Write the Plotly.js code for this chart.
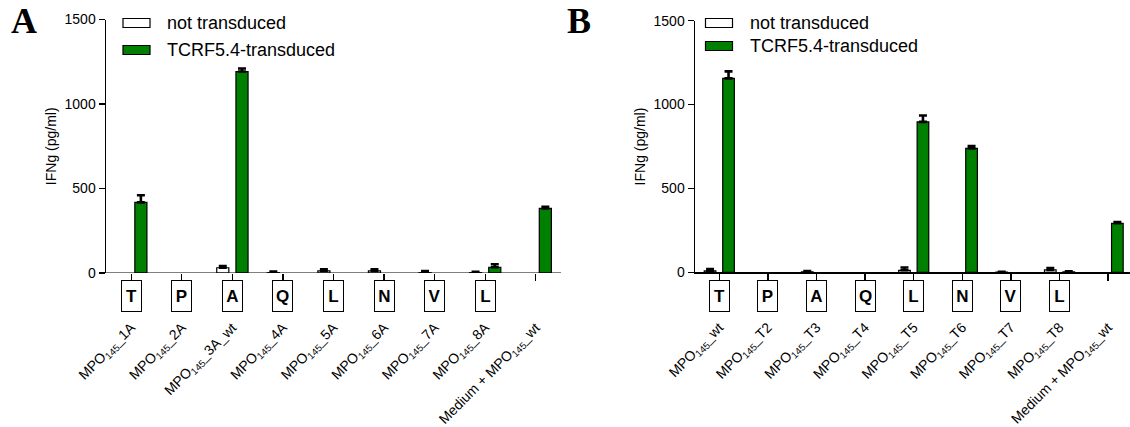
<!DOCTYPE html>
<html>
<head>
<meta charset="utf-8">
<script src="https://cdn.plot.ly/plotly-3.0.1.min.js"></script>
<style>html,body{margin:0;padding:0;background:#fff;}#chart{width:1130px;height:427px;}</style>
</head>
<body>
<div id="chart"></div>
<script>
// ---------- Data ----------
const seriesNames = ['not transduced', 'TCRF5.4-transduced'];

const categoriesA = ['MPO<sub>145</sub>_1A', 'MPO<sub>145</sub>_2A', 'MPO<sub>145</sub>_3A_wt', 'MPO<sub>145</sub>_4A',
  'MPO<sub>145</sub>_5A', 'MPO<sub>145</sub>_6A', 'MPO<sub>145</sub>_7A', 'MPO<sub>145</sub>_8A', 'Medium + MPO<sub>145</sub>_wt'];
const residuesA = ['T', 'P', 'A', 'Q', 'L', 'N', 'V', 'L'];
const notTransducedA = [null, null, 31, 2, 12, 12, 2, 2, null];
const notTransducedErrA = [0, 0, 10, 6, 10, 10, 9, 5, 0];
const transducedA = [418, null, 1192, null, null, null, null, 34, 382];
const transducedErrA = [42, 0, 18, 0, 0, 0, 0, 18, 9];

const categoriesB = ['MPO<sub>145</sub>_wt', 'MPO<sub>145</sub>_T2', 'MPO<sub>145</sub>_T3', 'MPO<sub>145</sub>_T4',
  'MPO<sub>145</sub>_T5', 'MPO<sub>145</sub>_T6', 'MPO<sub>145</sub>_T7', 'MPO<sub>145</sub>_T8', 'Medium + MPO<sub>145</sub>_wt'];
const residuesB = ['T', 'P', 'A', 'Q', 'L', 'N', 'V', 'L'];
const notTransducedB = [8, null, 2, null, 12, null, 1, 14, null];
const notTransducedErrB = [11, 0, 5, 0, 17, 0, 2, 12, 0];
const transducedB = [1156, null, null, null, 897, 739, null, 2, 292];
const transducedErrB = [42, 0, 0, 0, 38, 13, 0, 4, 8];

const yTicks = [0, 500, 1000, 1500];
const noLowerErr = [0, 0, 0, 0, 0, 0, 0, 0, 0];

// ---------- Styles ----------
const FONT = 'Arial, "Liberation Sans", sans-serif';
const SERIF = '"Times New Roman", "Liberation Serif", serif';
const GREEN = '#008000';
const W = 1130, H = 427;
const px = v => v / W;
const py = v => 1 - v / H;

function barTrace(cats, vals, errs, xa, ya, fill, name) {
  return {
    type: 'bar', x: cats, y: vals, name: name, xaxis: xa, yaxis: ya, showlegend: false,
    marker: {color: fill, line: {color: '#000', width: 1.2}},
    error_y: {type: 'data', symmetric: false, array: errs, arrayminus: noLowerErr,
      color: '#000', thickness: 2.6, width: 4},
    hoverinfo: 'x+y'
  };
}

const data = [
  barTrace(categoriesA, notTransducedA, notTransducedErrA, 'x', 'y', '#fff', seriesNames[0]),
  barTrace(categoriesA, transducedA, transducedErrA, 'x', 'y', GREEN, seriesNames[1]),
  barTrace(categoriesB, notTransducedB, notTransducedErrB, 'x2', 'y2', '#fff', seriesNames[0]),
  barTrace(categoriesB, transducedB, transducedErrB, 'x2', 'y2', GREEN, seriesNames[1])
];

function xAxis(cats, domain, range, showline) {
  return {
    domain: domain, type: 'category', categoryorder: 'array', categoryarray: cats,
    range: range, tickangle: -45, ticks: 'outside', ticklen: 7, tickwidth: 1.3, tickcolor: '#000',
    ticklabelstandoff: 33, showline: showline, linecolor: '#000', linewidth: 1.5,
    showgrid: false, zeroline: false, automargin: false, fixedrange: true,
    tickfont: {family: FONT, size: 14, color: '#000'}
  };
}
function yAxis(domain, anchor) {
  return {
    domain: domain, anchor: anchor, range: [0, 1500], tickvals: yTicks, ticktext: yTicks.map(String),
    ticks: 'outside', ticklen: 6, tickwidth: 1.3, tickcolor: '#000',
    showline: true, linecolor: '#000', linewidth: 1.5, showgrid: false, zeroline: false,
    automargin: false, fixedrange: true,
    tickfont: {family: FONT, size: 14, color: '#000'},
    title: {text: 'IFNg (pg/ml)', font: {family: FONT, size: 14, color: '#000'}, standoff: 4}
  };
}

const annotations = [];
const shapes = [];

function addResidueBoxes(letters, xref) {
  letters.forEach((l, i) => {
    annotations.push({x: i, xref: xref, y: py(296), yref: 'paper', yanchor: 'middle',
      text: '<b>' + l + '</b>', showarrow: false, font: {family: FONT, size: 17, color: '#000'},
      bordercolor: '#000', borderwidth: 1, borderpad: 0, width: 19, height: 30, bgcolor: '#fff'});
  });
}
addResidueBoxes(residuesA, 'x');
addResidueBoxes(residuesB, 'x2');

// panel letters
annotations.push({x: px(9), y: py(21), xref: 'paper', yref: 'paper', xanchor: 'left', yanchor: 'middle',
  text: '<b>A</b>', showarrow: false, font: {family: SERIF, size: 36, color: '#000'}});
annotations.push({x: px(565), y: py(21), xref: 'paper', yref: 'paper', xanchor: 'left', yanchor: 'middle',
  text: '<b>B</b>', showarrow: false, font: {family: SERIF, size: 36, color: '#000'}});

// legends (drawn per panel)
function addLegend(x0, rows, names) {
  rows.forEach((r, i) => {
    shapes.push({type: 'rect', xref: 'paper', yref: 'paper', x0: px(x0), x1: px(x0 + 27),
      y0: py(r + 4.5), y1: py(r - 4.5), fillcolor: i === 0 ? '#fff' : GREEN,
      line: {color: '#000', width: 1.2}});
    annotations.push({x: px(x0 + 42), y: py(r), xref: 'paper', yref: 'paper', xanchor: 'left',
      yanchor: 'middle', text: names[i], showarrow: false, font: {family: FONT, size: 18, color: '#000'}});
  });
}
addLegend(123, [23, 50], seriesNames);
addLegend(705.5, [23, 46], seriesNames);

// dotted baseline of panel A
shapes.push({type: 'line', xref: 'x domain', yref: 'y', x0: 0, x1: 1, y0: 0, y1: 0,
  line: {color: '#000', width: 1.2}});
shapes.push({type: 'line', xref: 'x domain', yref: 'y', ysizemode: 'pixel', yanchor: 0,
  x0: 0, x1: 1, y0: -1.6, y1: -1.6, line: {color: '#000', width: 2, dash: '1.5px,1.5px'}});

const layout = {
  width: W, height: H, margin: {l: 0, r: 0, t: 0, b: 0},
  paper_bgcolor: '#fff', plot_bgcolor: '#fff', showlegend: false,
  barmode: 'group', bargap: 0.24, bargroupgap: 0.37,
  font: {family: FONT, color: '#000'},
  xaxis: xAxis(categoriesA, [px(106), px(561)], [-0.5, 8.5], false),
  yaxis: yAxis([py(273), py(19.5)], 'x'),
  xaxis2: Object.assign(xAxis(categoriesB, [px(695), 1], [-0.5, 8.45], true), {anchor: 'y2'}),
  yaxis2: yAxis([py(272.3), py(20.7)], 'x2'),
  annotations: annotations, shapes: shapes
};
layout.xaxis.anchor = 'y';

Plotly.newPlot('chart', data, layout, {displayModeBar: false, staticPlot: true});
</script>
</body>
</html>
